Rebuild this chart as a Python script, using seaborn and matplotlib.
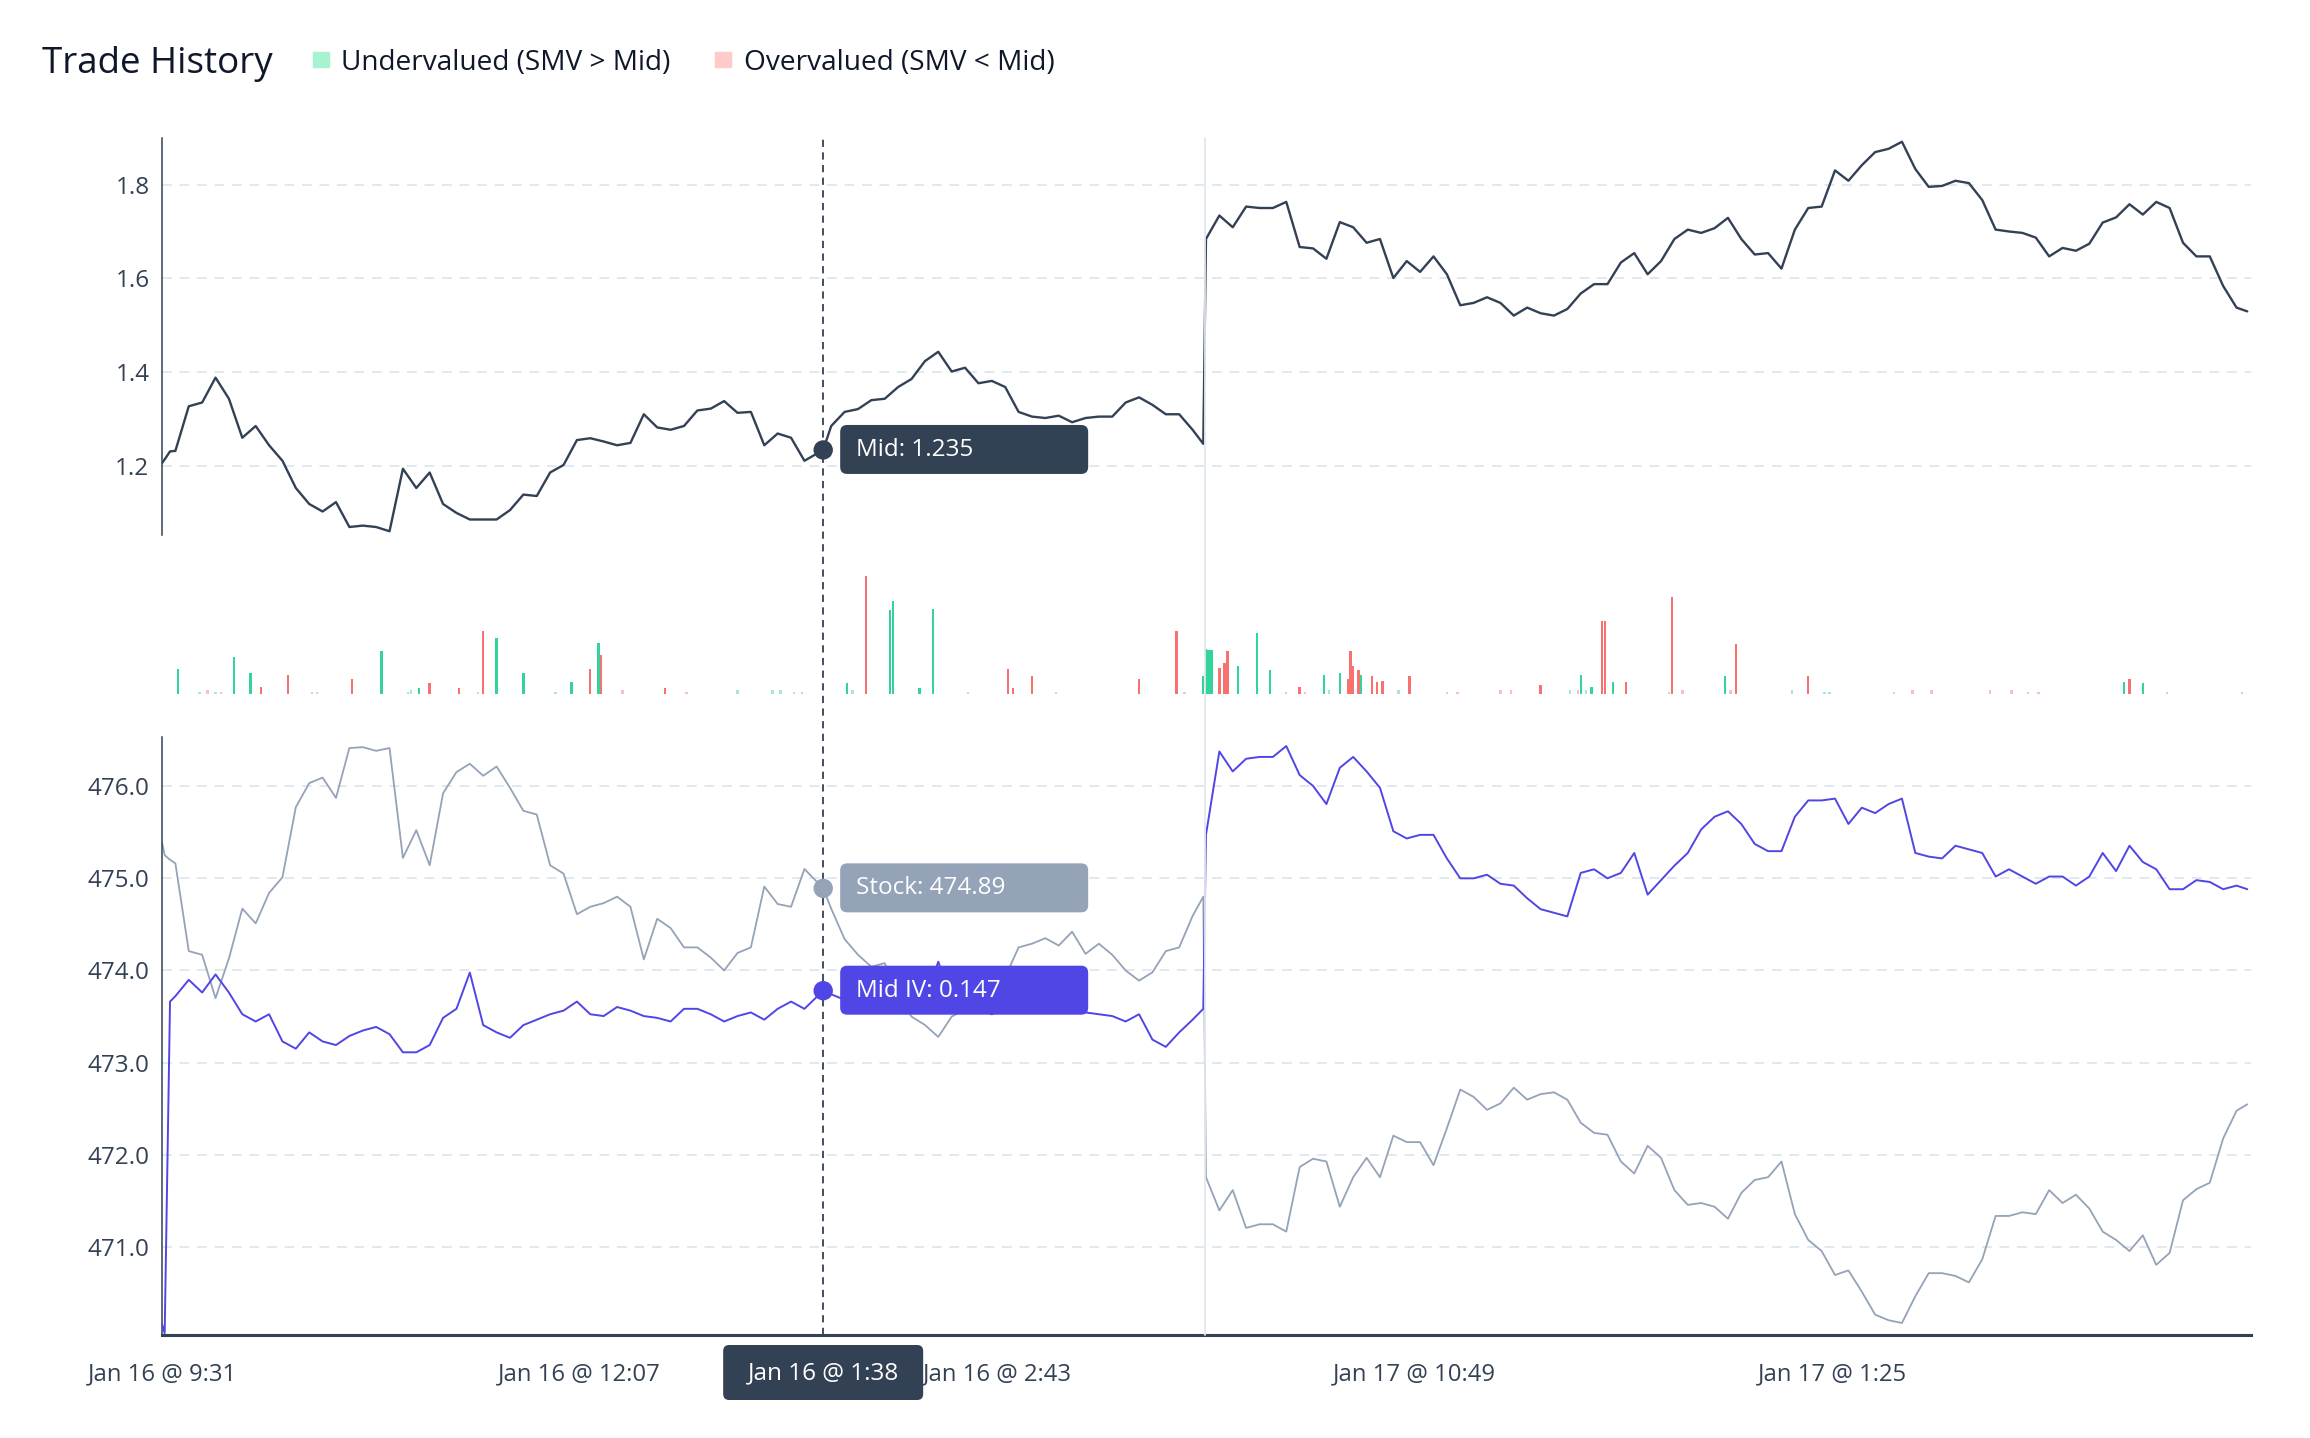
import matplotlib
matplotlib.use("Agg")
import matplotlib.pyplot as plt
import matplotlib.patches as mpatches
import matplotlib.transforms as mtransforms
from matplotlib.colors import to_rgba
from matplotlib.lines import Line2D
import pandas as pd
import seaborn as sns

sns.set_theme(style="white")
plt.rcParams["font.family"] = ["Open Sans", "DejaVu Sans"]

# ── Data ──────────────────────────────────────────────────────
# x = trading minute since Jan 16 9:31 (390 minutes per session)
minutes = ([0, 1, 3] + list(range(5, 245, 5)) + [247] + list(range(250, 390, 5))
           + [389] + list(range(390, 780, 5)) + [779])

mid = [1.207, 1.215, 1.232,
       1.233, 1.328, 1.336, 1.389, 1.344, 1.261, 1.286, 1.245, 1.212, 1.154,
       1.120, 1.104, 1.124, 1.071, 1.074, 1.071, 1.062, 1.195, 1.154, 1.187,
       1.120, 1.101, 1.087, 1.087, 1.087, 1.107, 1.140, 1.137, 1.187, 1.203,
       1.256, 1.260, 1.253, 1.245, 1.250, 1.311, 1.283, 1.278, 1.286, 1.319,
       1.323, 1.339, 1.314, 1.316, 1.245, 1.270, 1.261, 1.212,
       1.235,
       1.286, 1.316, 1.322, 1.341, 1.344, 1.369, 1.386, 1.424, 1.444, 1.402,
       1.410, 1.377, 1.382, 1.369, 1.316, 1.306, 1.303, 1.308, 1.294, 1.303,
       1.306, 1.306, 1.336, 1.347, 1.331, 1.311, 1.311, 1.278,
       1.248,
       1.684, 1.734, 1.709, 1.753, 1.750, 1.750, 1.763, 1.667, 1.664, 1.642,
       1.720, 1.709, 1.676, 1.684, 1.601, 1.637, 1.614, 1.647, 1.609, 1.543,
       1.548, 1.560, 1.548, 1.521, 1.538, 1.526, 1.521, 1.535, 1.568, 1.588,
       1.588, 1.634, 1.654, 1.609, 1.637, 1.684, 1.704, 1.697, 1.707, 1.729,
       1.684, 1.651, 1.654, 1.621, 1.704, 1.750, 1.753, 1.830, 1.808, 1.841,
       1.869, 1.876, 1.891, 1.833, 1.795, 1.797, 1.808, 1.803, 1.767, 1.704,
       1.700, 1.697, 1.687, 1.647, 1.665, 1.659, 1.674, 1.719, 1.730, 1.758,
       1.736, 1.763, 1.750, 1.676, 1.647, 1.647, 1.584, 1.538,
       1.530]

stock = [475.39, 475.25, 475.20,
         475.16, 474.21, 474.17, 473.70, 474.13, 474.67, 474.51, 474.84, 475.01, 475.77,
         476.03, 476.09, 475.87, 476.41, 476.42, 476.38, 476.41, 475.22, 475.52, 475.14,
         475.92, 476.15, 476.24, 476.11, 476.21, 475.98, 475.73, 475.69, 475.14, 475.05,
         474.61, 474.69, 474.73, 474.80, 474.69, 474.12, 474.56, 474.46, 474.25, 474.25,
         474.14, 474.00, 474.19, 474.25, 474.91, 474.72, 474.69, 475.10,
         474.89,
         474.67, 474.34, 474.17, 474.04, 474.08, 473.73, 473.50, 473.41, 473.28, 473.50,
         473.58, 473.75, 473.83, 473.93, 474.25, 474.29, 474.35, 474.27, 474.42, 474.18,
         474.29, 474.17, 474.00, 473.89, 473.98, 474.21, 474.25, 474.59,
         474.80,
         471.76, 471.40, 471.62, 471.21, 471.25, 471.25, 471.17, 471.87, 471.96, 471.93,
         471.44, 471.76, 471.97, 471.76, 472.21, 472.14, 472.14, 471.89, 472.29, 472.71,
         472.63, 472.49, 472.56, 472.73, 472.60, 472.66, 472.68, 472.60, 472.35, 472.24,
         472.22, 471.93, 471.80, 472.10, 471.97, 471.62, 471.46, 471.48, 471.44, 471.31,
         471.59, 471.73, 471.76, 471.93, 471.36, 471.08, 470.96, 470.70, 470.75, 470.52,
         470.27, 470.21, 470.18, 470.47, 470.72, 470.72, 470.69, 470.62, 470.87, 471.34,
         471.34, 471.38, 471.36, 471.62, 471.48, 471.57, 471.42, 471.17, 471.08, 470.96,
         471.13, 470.81, 470.94, 471.51, 471.63, 471.70, 472.18, 472.48,
         472.55]

mid_iv = [0.1286, 0.1281, 0.1464,
          0.1467, 0.1476, 0.1469, 0.1479, 0.1469, 0.1457, 0.1453, 0.1457, 0.1442, 0.1438,
          0.1447, 0.1442, 0.1440, 0.1445, 0.1448, 0.1450, 0.1446, 0.1436, 0.1436, 0.1440,
          0.1455, 0.1460, 0.1480, 0.1451, 0.1447, 0.1444, 0.1451, 0.1454, 0.1457, 0.1459,
          0.1464, 0.1457, 0.1456, 0.1461, 0.1459, 0.1456, 0.1455, 0.1453, 0.1460, 0.1460,
          0.1457, 0.1453, 0.1456, 0.1458, 0.1454, 0.1460, 0.1464, 0.1460,
          0.1470,
          0.1468, 0.1465, 0.1466, 0.1465, 0.1463, 0.1462, 0.1461, 0.1465, 0.1486, 0.1464,
          0.1462, 0.1460, 0.1457, 0.1462, 0.1462, 0.1461, 0.1460, 0.1461, 0.1459, 0.1458,
          0.1457, 0.1456, 0.1453, 0.1457, 0.1443, 0.1439, 0.1447, 0.1454,
          0.1460,
          0.1556, 0.1602, 0.1591, 0.1598, 0.1599, 0.1599, 0.1605, 0.1589, 0.1583, 0.1573,
          0.1593, 0.1599, 0.1591, 0.1582, 0.1558, 0.1554, 0.1556, 0.1556, 0.1543, 0.1532,
          0.1532, 0.1534, 0.1529, 0.1528, 0.1521, 0.1515, 0.1513, 0.1511, 0.1535, 0.1537,
          0.1532, 0.1535, 0.1546, 0.1523, 0.1531, 0.1539, 0.1546, 0.1559, 0.1566, 0.1569,
          0.1562, 0.1551, 0.1547, 0.1547, 0.1566, 0.1575, 0.1575, 0.1576, 0.1562, 0.1571,
          0.1568, 0.1573, 0.1576, 0.1546, 0.1544, 0.1543, 0.1550, 0.1548, 0.1546, 0.1533,
          0.1537, 0.1533, 0.1529, 0.1533, 0.1533, 0.1528, 0.1533, 0.1546, 0.1536, 0.1550,
          0.1541, 0.1537, 0.1526, 0.1526, 0.1531, 0.1530, 0.1526, 0.1528,
          0.1526]

# trade bars: minute, size (relative), True = undervalued (SMV > Mid)
bar_minute = [6, 14, 17, 20, 22, 27, 33, 37, 47, 56, 58, 71, 82, 92, 93, 96, 100, 111,
              118, 120, 125, 135, 147, 153, 160, 163, 164, 172, 188, 196, 215, 228, 231,
              236, 239, 256, 258, 263, 272, 273, 283, 288, 301, 316, 318, 325, 334, 365,
              379, 382, 389, 390, 391, 392, 395, 397, 398, 402, 409, 414, 420, 425, 427,
              434, 436, 440, 443, 444, 445, 447, 448, 452, 454, 456, 462, 466, 480, 484,
              500, 504, 515, 526, 529, 530, 532, 534, 538, 539, 542, 547, 563, 564, 568,
              584, 586, 588, 609, 615, 621, 623, 647, 654, 661, 683, 691, 697, 701, 733,
              735, 740, 749, 777]
bar_size = [21, 2, 3, 2, 2, 31, 18, 6, 16, 2, 2, 13, 36, 2, 3, 5, 9, 5,
            2, 53, 47, 18, 2, 10, 21, 43, 33, 3, 5, 2, 3, 3, 3,
            2, 2, 9, 3, 100, 71, 79, 5, 72, 2, 21, 5, 15, 2, 13,
            53, 2, 15, 38, 37, 37, 22, 26, 36, 24, 52, 20, 2, 6, 2,
            16, 3, 18, 13, 36, 24, 20, 16, 15, 10, 11, 3, 15, 2, 2,
            3, 3, 8, 3, 3, 16, 3, 6, 62, 62, 10, 10, 2, 82, 3,
            15, 3, 42, 3, 15, 2, 2, 2, 3, 3, 3, 3, 2, 2, 10,
            13, 9, 2, 2]
bar_under = [True, True, False, True, False, True, True, False, False, False, True, False,
             True, True, True, True, False, False, True, False, True, True, True, True,
             False, True, False, False, False, False, True, True, True, True, False, True,
             True, False, True, True, True, True, True, False, False, False, True, False,
             False, True, True, True, True, True, False, False, False, True, True, True,
             False, False, False, True, True, True, False, False, False, False, True, False,
             False, False, True, False, True, False, False, False, False, True, False, True,
             True, True, False, False, True, False, True, False, False, True, False, False,
             True, False, True, True, True, False, False, False, False, True, False, True,
             False, True, False, False]

HOVER_MIN = 247
HOVER_LABEL = "Jan 16 @ 1:38"
tick_minutes = [0, 156, 312, 468, 624]
tick_labels = ["Jan 16 @ 9:31", "Jan 16 @ 12:07", "Jan 16 @ 2:43",
               "Jan 17 @ 10:49", "Jan 17 @ 1:25"]
SESSION_BREAK = 389.5

df = pd.DataFrame({"minute": minutes, "mid": mid, "stock": stock, "iv": mid_iv})
bars = pd.DataFrame({"minute": bar_minute, "size": bar_size, "under": bar_under})
assert len(df) == len(mid) == len(stock) == len(mid_iv)

# ── Style ─────────────────────────────────────────────────────
SLATE = "#334155"
GRAY = "#94A3B8"
INDIGO = "#4F46E5"
GRID = "#E2E8F0"
GREEN = "#34D399"
RED = "#F87171"
INK = "#0F172A"

W, H = 2310, 1438
fig = plt.figure(figsize=(W / 100, H / 100), dpi=100)
ax_top = fig.add_axes([162 / W, 1 - 535 / H, 2089 / W, 397 / H])
ax_bar = fig.add_axes([162 / W, 1 - 694 / H, 2089 / W, 124 / H])
ax_bot = fig.add_axes([162 / W, 1 - 1335 / H, 2089 / W, 598 / H])
ax_iv = ax_bot.twinx()

XLIM = (0, 780.4)

# top: option mid
sns.lineplot(data=df, x="minute", y="mid", ax=ax_top, color=SLATE, linewidth=1.7)
ax_top.set_ylim(1.054, 1.899)
ax_top.set_yticks([1.2, 1.4, 1.6, 1.8])

# middle: trades
bar_colors = [to_rgba(GREEN if u else RED, 1.0 if s >= 4 else 0.45)
              for u, s in zip(bars["under"], bars["size"])]
ax_bar.bar(bars["minute"], bars["size"], width=0.9, color=bar_colors, linewidth=0)
ax_bar.set_ylim(0, 105)
ax_bar.axis("off")

# bottom: stock + mid IV
sns.lineplot(data=df, x="minute", y="stock", ax=ax_bot, color=GRAY, linewidth=1.3)
sns.lineplot(data=df, x="minute", y="iv", ax=ax_iv, color=INDIGO, linewidth=1.4)
ax_bot.set_ylim(470.05, 476.53)
ax_bot.set_yticks([471, 472, 473, 474, 475, 476])
ax_bot.yaxis.set_major_formatter(matplotlib.ticker.FormatStrFormatter("%.1f"))
ax_iv.set_ylim(0.128, 0.161)
ax_iv.set_yticks([])
ax_iv.set_ylabel("")
for s in ax_iv.spines.values():
    s.set_visible(False)

for ax in (ax_top, ax_bar, ax_bot, ax_iv):
    ax.set_xlim(*XLIM)
    ax.set_xlabel("")
    ax.set_ylabel("")

for ax in (ax_top, ax_bot):
    ax.yaxis.grid(True, color=GRID, linestyle=(0, (5, 4)), linewidth=1.4)
    ax.xaxis.grid(False)
    ax.set_axisbelow(True)
    for side in ("top", "right", "bottom"):
        ax.spines[side].set_visible(False)
    ax.spines["left"].set_color(SLATE)
    ax.spines["left"].set_linewidth(1.1)
    ax.tick_params(axis="y", length=0, pad=9, labelsize=17.5, labelcolor=SLATE)

ax_top.set_xticks([])
ax_bot.spines["bottom"].set_visible(True)
ax_bot.spines["bottom"].set_color(SLATE)
ax_bot.spines["bottom"].set_linewidth(2.2)
ax_bot.set_xticks(tick_minutes)
ax_bot.set_xticklabels(tick_labels)
ax_bot.tick_params(axis="x", length=0, pad=20, labelsize=17.2, labelcolor=SLATE)

# ── Vertical guides (session break, hover) ───────────────────
fig.canvas.draw()
ident = mtransforms.IdentityTransform()
y_top_px = ax_top.transAxes.transform((0, 1))[1]
y_bot_px = ax_bot.transAxes.transform((0, 0))[1]

brk_px = ax_bot.transData.transform((SESSION_BREAK, 471))[0]
fig.add_artist(Line2D([brk_px, brk_px], [y_bot_px, y_top_px], transform=ident,
                      color=GRID, linewidth=1.3, zorder=0.5))

hov_px = ax_bot.transData.transform((HOVER_MIN, 471))[0]
fig.add_artist(Line2D([hov_px, hov_px], [y_bot_px, y_top_px], transform=ident,
                      color=SLATE, linewidth=1.3, linestyle=(0, (4, 3)), zorder=3))

# ── Hover tooltips ────────────────────────────────────────────
hover = df[df["minute"] == HOVER_MIN].iloc[0]


def tooltip(ax, x, y, text, color):
    px, py = ax.transData.transform((x, y))
    fig.add_artist(mpatches.Circle((px, py), 9, transform=ident, color=color, zorder=6))
    fig.add_artist(mpatches.FancyBboxPatch(
        (px + 17, py - 24), 248, 49, boxstyle="round,pad=0,rounding_size=7",
        transform=ident, facecolor=color, edgecolor="none", zorder=5))
    fig.text((px + 33) / W, py / H, text, color="white", fontsize=17.5,
             fontweight="medium", ha="left", va="center", zorder=7)


tooltip(ax_top, HOVER_MIN, hover["mid"], f"Mid: {hover['mid']:.3f}", SLATE)
tooltip(ax_bot, HOVER_MIN, hover["stock"], f"Stock: {hover['stock']:.2f}", GRAY)
tooltip(ax_iv, HOVER_MIN, hover["iv"], f"Mid IV: {hover['iv']:.3f}", INDIGO)

# hovered x label
fig.add_artist(mpatches.FancyBboxPatch(
    (hov_px - 100, y_bot_px - 65), 200, 55, boxstyle="round,pad=0,rounding_size=6",
    transform=ident, facecolor=SLATE, edgecolor="none", zorder=5))
fig.text(hov_px / W, (y_bot_px - 38) / H, HOVER_LABEL, color="white", fontsize=17.5,
         fontweight="medium", ha="center", va="center", zorder=7)

# ── Title + legend ────────────────────────────────────────────
fig.text(42 / W, 1 - 73 / H, "Trade History", fontsize=26.5, color=INK,
         fontweight="medium", ha="left", va="baseline")
fig.add_artist(mpatches.Rectangle((313 / W, 1 - 67 / H), 16 / W, 15 / H,
                                  transform=fig.transFigure, color="#A7F3D0"))
fig.text(341 / W, 1 - 70 / H, "Undervalued (SMV > Mid)", fontsize=20.2,
         color=INK, fontweight="medium", ha="left", va="baseline")
fig.add_artist(mpatches.Rectangle((715 / W, 1 - 67 / H), 16 / W, 15 / H,
                                  transform=fig.transFigure, color="#FECACA"))
fig.text(744 / W, 1 - 70 / H, "Overvalued (SMV < Mid)", fontsize=20.2,
         color=INK, fontweight="medium", ha="left", va="baseline")

fig.savefig("out.png", dpi=100)
plt.close()
